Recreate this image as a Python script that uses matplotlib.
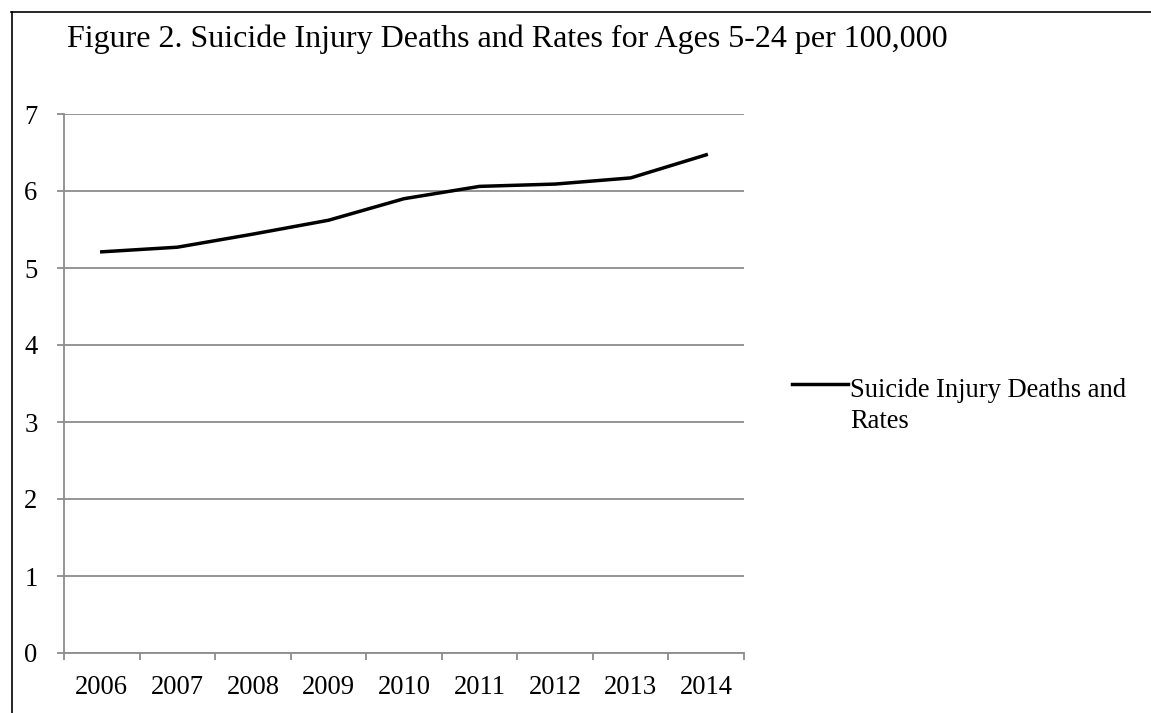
import matplotlib
matplotlib.use("Agg")
import matplotlib.pyplot as plt
from matplotlib.lines import Line2D

years = ["2006", "2007", "2008", "2009", "2010", "2011", "2012", "2013", "2014"]
rates = [5.21, 5.27, 5.44, 5.62, 5.90, 6.06, 6.09, 6.17, 6.47]
y_ticks = [0, 1, 2, 3, 4, 5, 6, 7]
title = "Figure 2. Suicide Injury Deaths and Rates for Ages 5-24 per 100,000"
series_lines = ["Suicide Injury Deaths and", "Rates"]

plt.rcParams['font.family'] = ['Liberation Serif', 'DejaVu Serif']

W, H = 1151, 713
fig = plt.figure(figsize=(W / 100, H / 100), dpi=100)
fig.patch.set_facecolor('white')

ax = fig.add_axes([64 / W, (H - 653) / H, 680 / W, (653 - 114) / H])
grid_c = '#8c8c8c'
xs = [i + 0.5 for i in range(len(years))]
ax.plot(xs, rates, color='black', lw=2.5, zorder=3)

ax.set_xlim(0, len(years))
ax.set_ylim(0, 7)
ax.set_yticks(y_ticks)
ax.set_yticklabels([str(v) for v in y_ticks])
ax.yaxis.grid(True, color=grid_c, lw=1.3)
ax.set_axisbelow(True)
ax.set_xticks(range(len(years) + 1))
ax.set_xticklabels([])
ax.set_xticks(xs, minor=True)
ax.set_xticklabels(years, minor=True)
ax.tick_params(axis='x', which='major', length=5, width=1.3, color=grid_c, direction='out')
ax.tick_params(axis='x', which='minor', length=0, pad=16, labelsize=19.2)
ax.tick_params(axis='y', length=5, width=1.3, color=grid_c, pad=14, labelsize=19.2)
for s in ['top', 'right']:
    ax.spines[s].set_visible(False)
for s in ['left', 'bottom']:
    ax.spines[s].set_color(grid_c)
    ax.spines[s].set_linewidth(1.3)

# frame border (left and top edges visible)
fig.add_artist(Line2D([11.5 / W, 11.5 / W], [0, 1 - 12 / H], transform=fig.transFigure, color='black', lw=1.2))
fig.add_artist(Line2D([11 / W, 1], [1 - 12 / H, 1 - 12 / H], transform=fig.transFigure, color='black', lw=1.2))

fig.text(67 / W, 1 - 47 / H, title, fontsize=23, va='baseline', ha='left')

# legend
fig.add_artist(Line2D([792 / W, 848 / W], [1 - 384 / H, 1 - 384 / H], transform=fig.transFigure, color='black', lw=2.5))
fig.text(850 / W, 1 - 397 / H, series_lines[0], fontsize=19.1, va='baseline', ha='left')
fig.text(850 / W, 1 - 428 / H, series_lines[1], fontsize=19.1, va='baseline', ha='left')

fig.savefig('out.png', dpi=100)
